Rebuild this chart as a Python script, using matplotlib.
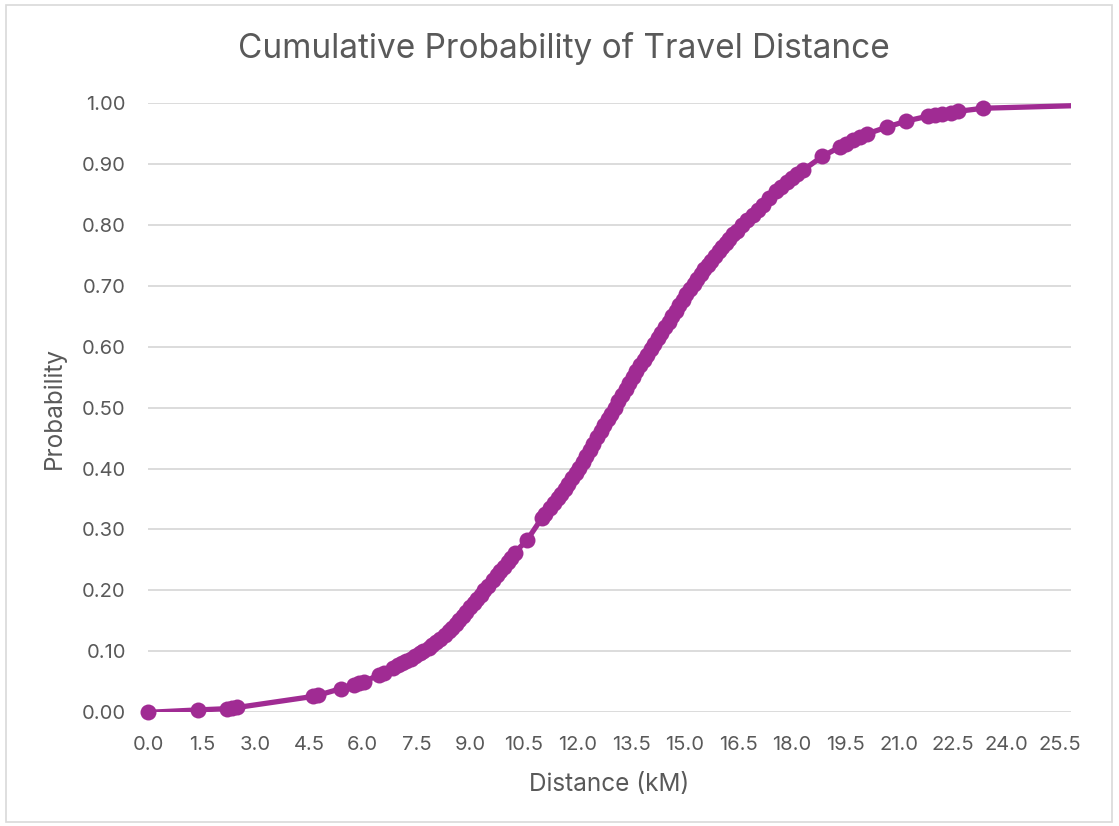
import numpy as np
import matplotlib.pyplot as plt
from matplotlib.patches import Rectangle

plt.rcParams['font.family'] = ['Inter', 'DejaVu Sans']

# distance (km) and cumulative probability for each trip
distance = [0.00, 1.40, 2.20, 2.35, 2.50, 4.60, 4.75, 5.40, 5.75, 5.90,
            6.05, 6.45, 6.60, 6.85, 7.00, 7.10, 7.20, 7.35, 7.45, 7.60,
            7.70, 7.85, 7.95, 8.05, 8.15, 8.30, 8.40, 8.50, 8.60, 8.70,
            8.80, 8.90, 9.00, 9.10, 9.20, 9.30, 9.40, 9.50, 9.65, 9.75,
            9.85, 9.95, 10.05, 10.15, 10.25, 10.60, 11.00, 11.10, 11.25, 11.35,
            11.45, 11.55, 11.65, 11.75, 11.85, 11.95, 12.05, 12.15, 12.25, 12.35,
            12.45, 12.55, 12.65, 12.75, 12.85, 12.95, 13.05, 13.15, 13.25, 13.35,
            13.45, 13.55, 13.65, 13.75, 13.85, 13.95, 14.05, 14.15, 14.25, 14.35,
            14.45, 14.55, 14.65, 14.75, 14.85, 14.95, 15.05, 15.15, 15.25, 15.35,
            15.45, 15.55, 15.65, 15.75, 15.85, 15.95, 16.05, 16.15, 16.25, 16.35,
            16.45, 16.60, 16.75, 16.90, 17.05, 17.20, 17.35, 17.55, 17.70, 17.85,
            18.00, 18.15, 18.30, 18.85, 19.35, 19.50, 19.70, 19.90, 20.10, 20.65,
            21.20, 21.80, 22.00, 22.20, 22.45, 22.65, 23.35, 27.00]
probability = [0.000, 0.004, 0.006, 0.007, 0.008, 0.026, 0.028, 0.039, 0.045, 0.048,
               0.050, 0.062, 0.065, 0.073, 0.078, 0.081, 0.084, 0.088, 0.092, 0.097,
               0.100, 0.106, 0.111, 0.116, 0.120, 0.127, 0.133, 0.139, 0.145, 0.151,
               0.158, 0.165, 0.172, 0.179, 0.186, 0.193, 0.200, 0.207, 0.217, 0.225,
               0.232, 0.238, 0.246, 0.253, 0.262, 0.283, 0.318, 0.326, 0.336, 0.343,
               0.351, 0.358, 0.366, 0.375, 0.384, 0.393, 0.401, 0.411, 0.421, 0.431,
               0.441, 0.451, 0.461, 0.471, 0.481, 0.490, 0.500, 0.510, 0.520, 0.530,
               0.540, 0.550, 0.560, 0.569, 0.578, 0.587, 0.596, 0.605, 0.614, 0.623,
               0.632, 0.641, 0.650, 0.659, 0.668, 0.677, 0.686, 0.695, 0.703, 0.711,
               0.719, 0.727, 0.734, 0.741, 0.749, 0.756, 0.763, 0.770, 0.777, 0.784,
               0.790, 0.800, 0.808, 0.816, 0.824, 0.832, 0.843, 0.856, 0.862, 0.870,
               0.877, 0.883, 0.889, 0.912, 0.928, 0.933, 0.939, 0.944, 0.949, 0.960,
               0.970, 0.978, 0.980, 0.982, 0.984, 0.986, 0.991, 0.997]

x_max = 25.8
x_ticks = np.arange(0, 25.6, 1.5)
y_ticks = np.arange(0, 1.01, 0.1)

purple = '#A02B93'
grey_text = '#595959'
grid_col = '#D9D9D9'

dist = np.array(distance)
prob = np.array(probability)
inside = dist <= x_max

fig = plt.figure(figsize=(11.19, 8.26), dpi=100)
ax = fig.add_axes([0.1323, 0.1376, 0.8248, 0.738])

ax.plot(dist, prob, color=purple, lw=3.8, solid_capstyle='round', zorder=3)
ax.plot(dist[inside], prob[inside], 'o', color=purple, ms=11.5, mew=0,
        clip_on=False, zorder=4)

ax.set_xlim(0, x_max)
ax.set_ylim(0, 1.0)
ax.set_xticks(x_ticks)
ax.set_xticklabels([f'{v:.1f}' for v in x_ticks])
ax.set_yticks(y_ticks)
ax.set_yticklabels([f'{v:.2f}' for v in y_ticks])
ax.tick_params(length=0, labelsize=14.5, labelcolor=grey_text)
ax.tick_params(axis='y', pad=16)
ax.tick_params(axis='x', pad=17)
ax.grid(axis='y', color=grid_col, lw=1.3)
ax.set_axisbelow(True)
for s in ax.spines.values():
    s.set_visible(False)

ax.set_xlabel('Distance (kM)', fontsize=17.5, color=grey_text, labelpad=14)
ax.set_ylabel('Probability', fontsize=17.5, color=grey_text, labelpad=11)
fig.text(0.504, 0.941, 'Cumulative Probability of Travel Distance',
         ha='center', va='center', fontsize=24, color=grey_text)

# light frame around the whole chart
fig.patches.append(Rectangle((6 / 1119, 4 / 826), 1106 / 1119, 817 / 826,
                             transform=fig.transFigure, fill=False,
                             edgecolor=grid_col, lw=1.2))

fig.savefig('out.png', dpi=100)
